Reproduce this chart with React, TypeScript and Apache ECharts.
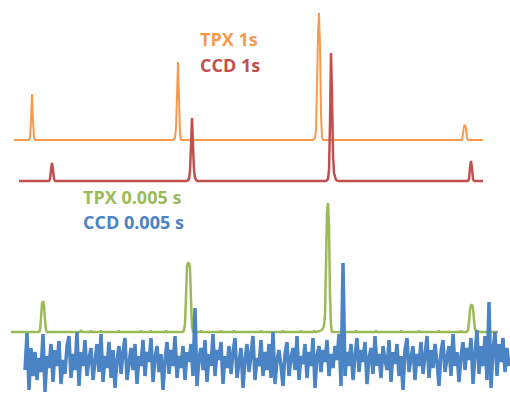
import React, { useEffect, useRef } from "react";
import * as echarts from "echarts";

// Signal traces: [channel position, intensity (offset stacked)]
const tpx1s: [number, number][] = [
  [14, 256], [29, 256], [30, 258], [31, 276], [32, 302], [33, 276], [34, 258], [35, 256],
  [173, 256], [175, 258], [176, 268], [177, 300], [178, 334], [179, 300], [180, 262], [181, 256],
  [313, 256], [315, 258], [316, 266], [317, 310], [318, 362], [319, 383], [320, 350], [321, 282], [322, 259], [323, 256],
  [462, 256], [463, 262], [464, 270], [465, 271], [466, 268], [467, 258], [468, 256], [483, 256],
];

const ccd1s: [number, number][] = [
  [19, 215], [49, 215], [50, 217], [51, 226], [52, 233], [53, 226], [54, 217], [55, 215],
  [187, 215], [189, 217], [190, 225], [191, 250], [192, 278], [193, 250], [194, 226], [195, 218], [197, 215],
  [326, 215], [328, 217], [329, 226], [330, 272], [331, 343], [332, 300], [333, 242], [334, 223], [336, 216], [338, 215],
  [468, 215], [469, 217], [470, 228], [471, 235], [472, 228], [473, 217], [474, 215], [483, 215],
];

const tpx005: [number, number][] = [
  [11, 64], [39, 64], [40, 66], [41, 78], [42, 92], [43, 95], [44, 91], [45, 76], [46, 66], [47, 64],
  [80, 64], [81, 66], [82, 64], [90, 64], [91, 65], [92, 64], [100, 64], [101, 65], [102, 64],
  [118, 64], [119, 65], [120, 64], [140, 64], [141, 65], [142, 64], [150, 64], [151, 65], [152, 64],
  [165, 64], [166, 65], [167, 64], [183, 64], [184, 66], [185, 72], [186, 100], [187, 130], [188, 133],
  [189, 133], [190, 128], [191, 96], [192, 70], [193, 64],
  [200, 64], [201, 65], [202, 64], [220, 64], [221, 65], [222, 64], [233, 64], [234, 65], [235, 64],
  [260, 64], [261, 65], [262, 64], [282, 64], [283, 65], [284, 64], [300, 64], [301, 65], [302, 64],
  [313, 64], [314, 65], [315, 64], [320, 65], [322, 66], [324, 70], [325, 82], [326, 130], [327, 185],
  [328, 193], [329, 170], [330, 100], [331, 70], [332, 64],
  [355, 64], [356, 65], [357, 64], [375, 64], [376, 65], [377, 64], [400, 64], [401, 65], [402, 64],
  [418, 64], [419, 65], [420, 64], [438, 64], [439, 65], [440, 64], [460, 64], [461, 65], [462, 64],
  [467, 64], [468, 66], [469, 74], [470, 86], [471, 91], [472, 91], [473, 88], [474, 76], [475, 67], [476, 64],
  [498, 64],
];

// CCD 0.005 s samples, one every 2 channels starting at channel 25
const ccd005Start = 25;
const ccd005Step = 2;
const ccd005: number[] = [
  26, 63, 6, 48, 20, 44, 16, 38, 24, 62,
  4, 40, 28, 52, 14, 46, 30, 55, 12, 36,
  22, 50, 60, 18, 42, 26, 64, 10, 44, 30,
  56, 20, 38, 48, 16, 34, 52, 24, 62, 14,
  40, 28, 54, 18, 46, 8, 36, 50, 22, 44,
  58, 16, 32, 48, 26, 52, 12, 40, 30, 56,
  20, 44, 34, 58, 14, 38, 50, 24, 42, 6,
  36, 54, 22, 46, 30, 60, 18, 40, 28, 50,
  16, 44, 34, 52, 20, 88, 10, 38, 48, 26,
  56, 14, 42, 30, 62, 20, 46, 36, 54, 12,
  40, 28, 50, 22, 44, 58, 18, 34, 48, 8,
  36, 52, 24, 42, 60, 16, 38, 30, 56, 20,
  44, 26, 52, 18, 64, 12, 36, 46, 30, 10,
  42, 54, 20, 38, 48, 26, 60, 16, 40, 32,
  52, 18, 44, 30, 58, 8, 40, 50, 24, 46,
  34, 56, 20, 42, 28, 50, 36, 62, 10, 133,
  20, 44, 30, 52, 16, 40, 58, 24, 46, 34,
  54, 12, 38, 48, 22, 60, 30, 42, 18, 50,
  36, 26, 56, 14, 44, 32, 52, 20, 40, 6,
  46, 58, 24, 38, 50, 16, 42, 30, 54, 22,
  40, 60, 18, 46, 28, 52, 34, 10, 44, 56,
  24, 38, 50, 20, 62, 30, 44, 14, 40, 54,
  26, 48, 36, 58, 12, 42, 66, 22, 50, 30,
  60, 16, 94, 8, 46, 64, 20, 52, 34, 58,
  24, 48, 30,
];

const labels = ["TPX 1s", "CCD 1s", "TPX 0.005 s", "CCD 0.005 s"];

export default function App() {
  const ref = useRef<HTMLDivElement>(null);
  useEffect(() => {
    if (!ref.current) return;
    const chart = echarts.init(ref.current, undefined, { renderer: "svg" });
    const ccdData = ccd005.map((v, i) => [ccd005Start + i * ccd005Step, v]);
    const font = "'Open Sans', 'Noto Sans', sans-serif";
    chart.setOption({
      animation: false,
      backgroundColor: "#ffffff",
      grid: { left: 0, right: 0, top: 0, bottom: 0 },
      xAxis: { type: "value", min: 0, max: 510, show: false },
      yAxis: { type: "value", min: 0, max: 396, show: false },
      series: [
        { name: labels[0], type: "line", data: tpx1s, symbol: "none", lineStyle: { color: "#F79A4E", width: 2 }, itemStyle: { color: "#F79A4E" } },
        { name: labels[1], type: "line", data: ccd1s, symbol: "none", lineStyle: { color: "#C0504D", width: 2.5 }, itemStyle: { color: "#C0504D" } },
        { name: labels[2], type: "line", data: tpx005, symbol: "none", lineStyle: { color: "#9BBB59", width: 2.5 }, itemStyle: { color: "#9BBB59" } },
        { name: labels[3], type: "line", data: ccdData, symbol: "none", lineStyle: { color: "#4A84C4", width: 3.5, join: "miter", miterLimit: 2 }, itemStyle: { color: "#4A84C4" } },
      ],
      graphic: [
        { type: "text", left: 200, top: 30, style: { text: labels[0], fill: "#F79A4E", font: `bold 18px ${font}` } },
        { type: "text", left: 200, top: 56, style: { text: labels[1], fill: "#C0504D", font: `bold 18px ${font}` } },
        { type: "text", left: 83, top: 188, style: { text: labels[2], fill: "#9BBB59", font: `bold 18px ${font}` } },
        { type: "text", left: 83, top: 213, style: { text: labels[3], fill: "#4A84C4", font: `bold 18px ${font}` } },
      ],
    });
    return () => chart.dispose();
  }, []);
  return (
    <div
      ref={ref}
      style={{ position: "absolute", left: 0, top: 0, width: 510, height: 396 }}
    />
  );
}
